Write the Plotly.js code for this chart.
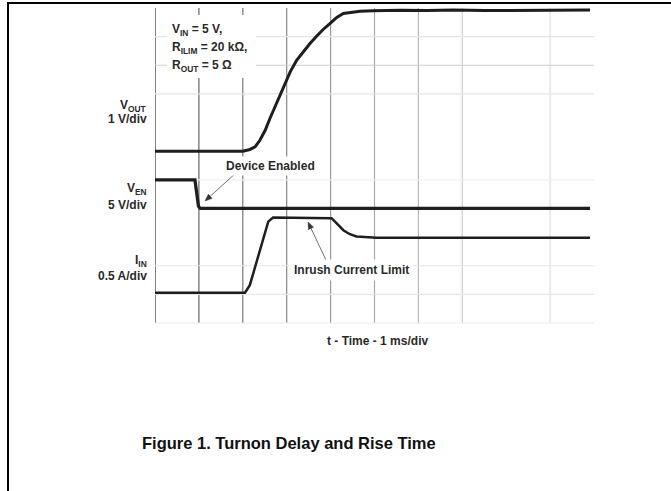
<!DOCTYPE html>
<html>
<head>
<meta charset="utf-8">
<script src="https://cdn.plot.ly/plotly-3.0.1.min.js"></script>
<style>html,body{margin:0;padding:0;background:#fff;}#chart{width:671px;height:491px;}</style>
</head>
<body>
<div id="chart"></div>
<script>
// Time in ms (1 ms/div)
const voutTime = [0, 2.0, 2.16, 2.28, 2.39, 2.51, 2.62, 2.73, 2.85, 2.96, 3.08, 3.23, 3.37, 3.53, 3.68, 3.83, 3.99, 4.14, 4.29, 4.44, 4.67, 4.97, 5.6, 6.2, 6.8, 7.5, 8.2, 8.9, 9.91];
const voutVolts = [0, 0, 0.06, 0.15, 0.38, 0.73, 1.15, 1.55, 1.96, 2.36, 2.77, 3.18, 3.46, 3.76, 4.01, 4.25, 4.46, 4.67, 4.81, 4.85, 4.89, 4.90, 4.92, 4.91, 4.93, 4.91, 4.92, 4.91, 4.93];

const venTime = [0, 0.91, 0.95, 0.99, 1.03, 9.91];
const venVolts = [5, 5, 2.7, 0.4, 0, 0];

const iinTime = [0, 2.05, 2.16, 2.24, 2.35, 2.47, 2.58, 2.69, 3.0, 3.5, 4.02, 4.14, 4.29, 4.44, 4.59, 5.05, 6, 7, 8, 9, 9.91];
const iinAmps = [0.03, 0.03, 0.16, 0.37, 0.66, 1.01, 1.27, 1.34, 1.34, 1.33, 1.33, 1.24, 1.12, 1.05, 1.01, 0.99, 0.99, 0.99, 0.99, 0.99, 0.99];

const channelLabels = ['V<sub>OUT</sub>', 'V<sub>EN</sub>', 'I<sub>IN</sub>'];
const channelScales = ['1 V/div', '5 V/div', '0.5 A/div'];
const conditionLines = ['V<sub>IN</sub> = 5 V,', 'R<sub>ILIM</sub> = 20 kΩ,', 'R<sub>OUT</sub> = 5 Ω'];
const xTitle = 't - Time - 1 ms/div';
const caption = 'Figure 1. Turnon Delay and Rise Time';
const noteEnabled = 'Device Enabled';
const noteInrush = 'Inrush Current Limit';

// pixel -> paper helpers (plot area 155..594 x 8..323)
const L = 155, R = 594, T = 8, B = 323;
const X = px => (px - L) / (R - L);
const Y = py => (B - py) / (B - T);

const lineCol = '#1e1e1e';
const traces = [
  {x: voutTime, y: voutVolts, type: 'scatter', mode: 'lines', yaxis: 'y', line: {color: lineCol, width: 3}, hoverinfo: 'skip'},
  {x: venTime, y: venVolts, type: 'scatter', mode: 'lines', yaxis: 'y2', line: {color: lineCol, width: 3.3}, hoverinfo: 'skip'},
  {x: iinTime, y: iinAmps, type: 'scatter', mode: 'lines', yaxis: 'y3', line: {color: lineCol, width: 2.5}, hoverinfo: 'skip'}
];

const shapes = [];
const vCols = ['#555', '#666', '#777', '#888', '#999', '#aaa', '#b8b8b8', '#cfcfcf', null, '#dedede'];
vCols.forEach((c, i) => {
  if (!c) return;
  shapes.push({type: 'line', layer: 'below', xref: 'x', yref: 'paper', x0: i, x1: i, y0: 0, y1: 1, line: {color: c, width: i === 0 ? 1.5 : 1.2}});
});
const hGrid = [[0, '#ebebeb'], [1, '#e6e6e6'], [2, '#e6e6e6'], [5, '#efefef'], [8, '#e4e4e4'], [9, '#cdcdcd'], [10, '#e6e6e6']];
hGrid.forEach(([d, c]) => {
  shapes.push({type: 'line', layer: 'below', xref: 'paper', yref: 'paper', x0: 0, x1: 1, y0: d / 11, y1: d / 11, line: {color: c, width: 1.2}});
});
// white box behind conditions text
shapes.push({type: 'rect', layer: 'below', xref: 'paper', yref: 'paper', x0: X(167), x1: X(256), y0: Y(78), y1: Y(15), fillcolor: '#fff', line: {width: 0}});
// page frame
shapes.push({type: 'line', xref: 'paper', yref: 'paper', x0: X(8), x1: X(672), y0: Y(3), y1: Y(3), line: {color: '#000', width: 2}});
shapes.push({type: 'line', xref: 'paper', yref: 'paper', x0: X(8), x1: X(8), y0: Y(2), y1: Y(492), line: {color: '#000', width: 2}});

// pointer arrows (tail -> tip, pixel positions) drawn as shapes
function addArrow(tx, ty, hx, hy) {
  const dx = hx - tx, dy = hy - ty, len = Math.hypot(dx, dy);
  const ux = dx / len, uy = dy / len, hl = 7, hw = 2.8;
  const bx = hx - ux * hl, by = hy - uy * hl;
  shapes.push({type: 'line', xref: 'paper', yref: 'paper', x0: X(tx), y0: Y(ty), x1: X(bx), y1: Y(by), line: {color: '#707070', width: 1}});
  const p1 = [bx - uy * hw, by + ux * hw], p2 = [bx + uy * hw, by - ux * hw];
  shapes.push({type: 'path', xref: 'paper', yref: 'paper',
    path: `M ${X(hx)} ${Y(hy)} L ${X(p1[0])} ${Y(p1[1])} L ${X(p2[0])} ${Y(p2[1])} Z`,
    fillcolor: '#333', line: {color: '#333', width: 0.5}});
}
addArrow(237, 172, 205, 201);
addArrow(326, 260, 308, 222);

const fam = 'Liberation Sans, Arial, sans-serif';
const small = () => ({family: fam, size: 12, color: '#2a2a2a', weight: 'bold'});
const ann = [];
const labelY = [[106, 119], [189, 205], [261, 276]];
channelLabels.forEach((t, i) => {
  ann.push({xref: 'paper', yref: 'paper', x: X(149), y: Y(labelY[i][0]), xanchor: 'right', yanchor: 'middle', text: t, showarrow: false, font: small()});
  ann.push({xref: 'paper', yref: 'paper', x: X(149), y: Y(labelY[i][1]), xanchor: 'right', yanchor: 'middle', text: channelScales[i], showarrow: false, font: small()});
});
const condY = [30, 48, 66];
conditionLines.forEach((t, i) => {
  ann.push({xref: 'paper', yref: 'paper', x: X(170), y: Y(condY[i]), xanchor: 'left', yanchor: 'middle', text: t, showarrow: false, font: small()});
});
ann.push({xref: 'paper', yref: 'paper', x: X(270), y: Y(166), xanchor: 'center', yanchor: 'middle', text: noteEnabled, showarrow: false, font: small(), bgcolor: '#fff', borderpad: 2});
ann.push({xref: 'paper', yref: 'paper', x: X(351), y: Y(270), xanchor: 'center', yanchor: 'middle', text: noteInrush, showarrow: false, font: small(), bgcolor: '#fff', borderpad: 3});
ann.push({xref: 'paper', yref: 'paper', x: X(377), y: Y(341), xanchor: 'center', yanchor: 'middle', text: xTitle, showarrow: false, font: small()});
ann.push({xref: 'paper', yref: 'paper', x: X(289), y: Y(443), xanchor: 'center', yanchor: 'middle', text: caption, showarrow: false, font: {family: fam, size: 16.5, color: '#111', weight: 'bold'}});

const hidden = {showgrid: false, zeroline: false, showticklabels: false, showline: false, ticks: ''};
const layout = {
  width: 671, height: 491,
  margin: {l: L, r: 671 - R, t: T, b: 491 - B, pad: 0},
  paper_bgcolor: '#fff', plot_bgcolor: '#fff',
  showlegend: false,
  xaxis: Object.assign({range: [0, 10]}, hidden),
  yaxis: Object.assign({range: [-6, 5]}, hidden),
  yaxis2: Object.assign({range: [-20, 35], overlaying: 'y'}, hidden),
  yaxis3: Object.assign({range: [-0.5, 5.0], overlaying: 'y'}, hidden),
  shapes: shapes,
  annotations: ann
};
Plotly.newPlot('chart', traces, layout, {displayModeBar: false});
</script>
</body>
</html>
